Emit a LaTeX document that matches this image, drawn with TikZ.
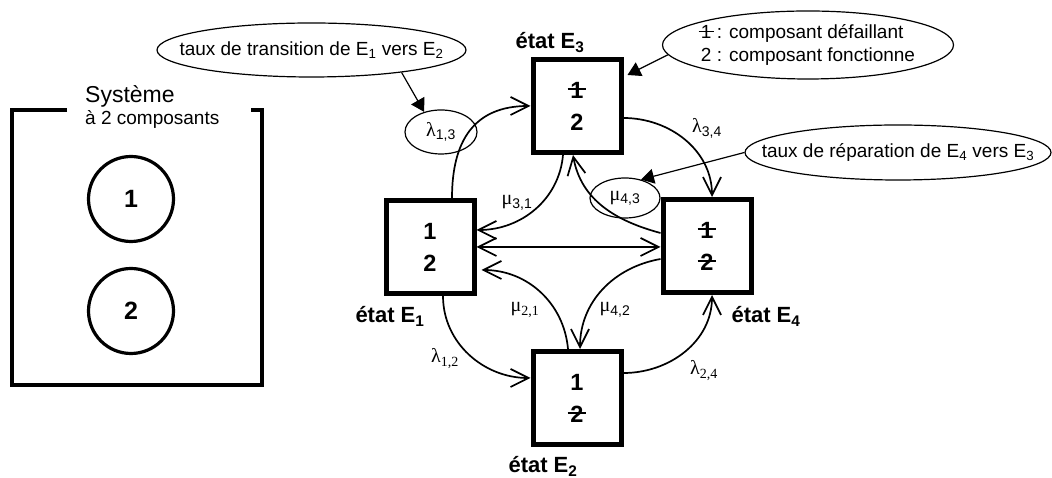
\documentclass[tikz,border=0pt]{standalone}
\usepackage{fontspec}
\setmainfont{Liberation Sans}
\newfontfamily\grec{Liberation Serif}
\usetikzlibrary{arrows.meta, positioning, shapes.geometric}
\newcommand{\barre}[1]{\ooalign{#1\cr\hidewidth\rule[.34em]{.8em}{.08em}\hidewidth\cr}}
\newcommand{\txsub}[2]{{\grec #1}\textsubscript{#2}}
\newcommand{\txsubr}[2]{{\grec #1\textsubscript{#2}}}

\begin{document}
\begin{tikzpicture}[x=1pt, y=1pt,
  >={Straight Barb[length=18pt, width=18pt]},
  etatbox/.style={rectangle, draw, line width=5pt, minimum width=88pt,
               minimum height=93pt, inner sep=0pt, align=center,
               font=\fontsize{23.5}{32}\selectfont\bfseries},
  comp/.style={circle, draw, line width=3.2pt, minimum size=85pt,
               inner sep=0pt, font=\fontsize{25}{30}\selectfont\bfseries},
  etiq/.style={anchor=base, inner sep=0pt,
               font=\fontsize{22}{26}\selectfont\bfseries},
  taux/.style={anchor=base, inner sep=0pt, font=\fontsize{20}{24}\selectfont},
  bulle/.style={ellipse, draw, line width=1.2pt, inner xsep=-30pt,
               inner ysep=0pt, font=\fontsize{19}{23}\selectfont},
  petite/.style={ellipse, draw, line width=1.2pt, inner sep=0pt,
               font=\fontsize{20}{24}\selectfont},
  fleche/.style={->, line width=1.7pt},
  renvoi/.style={-{Triangle[length=13pt, width=15pt]}, line width=1.2pt},
]
\useasboundingbox (0,0) rectangle (1052,478);

\draw[line width=4.5pt] (67,368) -- (12,368) -- (12,93) -- (262,93)
  -- (262,368) -- (251,368);
\node[anchor=base west, inner sep=0pt, font=\fontsize{23}{27}\selectfont]
  (sys) at (85,375) {Système};
\node[anchor=base west, inner sep=0pt, font=\fontsize{19}{23}\selectfont]
  (sys2) at (85,353) {à 2 composants};
\node[comp] (c1) at (131,279) {1};
\node[comp] (c2) at (131,167) {2};

\node[etatbox] (E1) at (430,231) {1\\2};
\node[etatbox] (E3) at (577,372) {\barre{1}\\2};
\node[etatbox] (E4) at (707,232) {\barre{1}\\\barre{2}};
\node[etatbox] (E2) at (577,80)  {1\\\barre{2}};

\node[etiq] (lE3) at (550,429) {état E\textsubscript{3}};
\node[etiq] (lE1) at (390,155) {état E\textsubscript{1}};
\node[etiq] (lE4) at (766,155) {état E\textsubscript{4}};
\node[etiq] (lE2) at (543,5)   {état E\textsubscript{2}};

\node[petite, minimum width=72pt, minimum height=44pt] (l13) at (441,346) {\txsub{λ}{1,3}};
\node[petite, minimum width=70pt, minimum height=40pt] (m43) at (625,280) {\txsub{μ}{4,3}};
\node[taux] (m31) at (517,273) {\txsub{μ}{3,1}};
\node[taux] (l34) at (707,345) {\txsub{λ}{3,4}};
\node[taux] (m21) at (525,166) {\txsubr{μ}{2,1}};
\node[taux] (m42) at (615,166) {\txsub{μ}{4,2}};
\node[taux] (l12) at (445,115) {\txsubr{λ}{1,2}};
\node[taux] (l24) at (704,103) {\txsubr{λ}{2,4}};

\node[bulle, minimum width=309pt, minimum height=54pt] (b1) at (311.5,428)
  {taux de transition de E\textsubscript{1} vers E\textsubscript{2}};
\node[bulle, minimum width=291pt, minimum height=68pt, align=left] (b2) at (808,433)
  {\barre{1} : composant défaillant\\2 : composant fonctionne};
\node[bulle, minimum width=306pt, minimum height=55pt] (b3) at (898,325.5)
  {taux de réparation de E\textsubscript{4} vers E\textsubscript{3}};

\draw[fleche] ([xshift=22pt]E1.north) to[out=90, in=180, looseness=1.2] (E3.west);
\draw[fleche] ([xshift=-14pt]E3.south) to[out=-95, in=0] ([yshift=17pt]E1.east);
\draw[fleche] ([yshift=-12pt]E3.east) to[out=0, in=90] ([xshift=5pt]E4.north);
\draw[fleche] ([yshift=13pt]E4.west) to[out=165, in=-80] ([xshift=-4pt]E3.south);
\draw[fleche, <->] (E1.east) -- (E1.east -| E4.west);
\draw[fleche] ([xshift=-9pt]E2.north) to[out=95, in=0] ([xshift=5pt, yshift=-23pt]E1.east);
\draw[fleche] ([yshift=-13pt]E4.west) to[out=190, in=90] ([xshift=3pt]E2.north);
\draw[fleche] ([xshift=13pt]E1.south) to[out=-90, in=180] ([yshift=20pt]E2.west);
\draw[fleche] ([yshift=25pt]E2.east) to[out=0, in=-90] ([xshift=5pt]E4.south);

\draw[renvoi] (b1.-14) -- (l13.130);
\draw[renvoi] (b2.184) -- ([xshift=4pt, yshift=-18pt]E3.north east);
\draw[renvoi] (b3.180) -- (m43.49);
\end{tikzpicture}
\end{document}
